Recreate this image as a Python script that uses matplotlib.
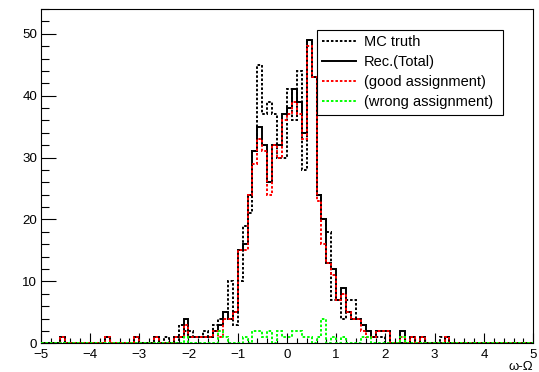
import numpy as np
import matplotlib
matplotlib.use("Agg")
import matplotlib.pyplot as plt
from matplotlib.ticker import MultipleLocator
from matplotlib.lines import Line2D

plt.rcParams['font.family'] = ['Liberation Sans', 'DejaVu Sans']

# 100 bins of width 0.1 from -5 to 5 ; values given as {bin index: count}
bin_edges = np.linspace(-5, 5, 101)

rec_total_nonzero = {4: 1, 13: 1, 19: 1, 23: 1, 27: 1, 28: 1, 29: 4, 30: 1, 31: 1, 32: 1,
                     33: 1, 34: 1, 35: 2, 36: 3, 37: 5, 38: 4, 39: 5, 40: 15, 41: 16, 42: 24,
                     43: 31, 44: 35, 45: 32, 46: 26, 47: 32, 48: 32, 49: 37, 50: 38, 51: 41,
                     52: 39, 53: 34, 54: 49, 55: 43, 56: 24, 57: 20, 58: 13, 59: 12, 60: 7,
                     61: 9, 62: 5, 63: 4, 64: 4, 65: 3, 66: 2, 67: 1, 68: 2, 69: 2, 70: 2,
                     73: 2, 75: 1, 77: 1, 82: 1}
wrong_nonzero = {29: 1, 36: 2, 37: 1, 41: 1, 43: 2, 44: 2, 45: 1, 46: 2, 48: 2, 49: 1,
                 50: 1, 51: 2, 52: 2, 53: 1, 54: 1, 56: 1, 57: 4, 59: 1, 61: 1, 65: 1,
                 66: 1, 73: 1}
good_nonzero = {4: 1, 13: 1, 19: 1, 23: 1, 27: 1, 28: 1, 29: 3, 30: 1, 31: 1, 32: 1,
                33: 1, 34: 1, 35: 2, 36: 1, 37: 4, 38: 4, 39: 5, 40: 15, 41: 15, 42: 24,
                43: 29, 44: 33, 45: 31, 46: 24, 47: 32, 48: 30, 49: 36, 50: 37, 51: 39,
                52: 37, 53: 33, 54: 48, 55: 43, 56: 23, 57: 16, 58: 13, 59: 11, 60: 7,
                61: 8, 62: 5, 63: 4, 64: 4, 65: 2, 66: 1, 67: 1, 68: 2, 69: 2, 70: 2,
                73: 1, 75: 1, 77: 1, 82: 1}
mc_truth_nonzero = {25: 1, 28: 3, 29: 2, 30: 2, 31: 1, 32: 1, 33: 2, 34: 1, 35: 3, 36: 4,
                    37: 5, 38: 10, 39: 3, 40: 10, 41: 19, 42: 21, 43: 31, 44: 45, 45: 37,
                    46: 39, 47: 37, 48: 30, 49: 30, 50: 41, 51: 36, 52: 44, 53: 28, 54: 49,
                    55: 43, 56: 24, 57: 20, 58: 18, 59: 7, 60: 7, 61: 4, 62: 7, 63: 7,
                    64: 4, 65: 3, 66: 2, 67: 1, 68: 1, 69: 1, 81: 1}


def to_array(d):
    a = np.zeros(100)
    for k, v in d.items():
        a[k] = v
    return a


rec_total = to_array(rec_total_nonzero)
good = to_array(good_nonzero)
wrong = to_array(wrong_nonzero)
mc_truth = to_array(mc_truth_nonzero)

W, H = 539, 372
fig = plt.figure(figsize=(W / 100, H / 100), dpi=100)
ax = fig.add_axes([40.7 / W, (H - 343.3) / H, 492.5 / W, 334.3 / H])

lw = 1.4
dots = (0, (1.3, 1.0))
ax.stairs(rec_total, bin_edges, color='black', lw=lw, baseline=0, zorder=3)
ax.stairs(mc_truth, bin_edges, color='black', lw=lw, linestyle=dots, baseline=0, zorder=4)
ax.stairs(good, bin_edges, color='#ff0000', lw=lw, linestyle=dots, baseline=0, zorder=5)
ax.stairs(wrong, bin_edges, color='#00ff00', lw=lw, linestyle=dots, baseline=0, zorder=6)

ax.set_xlim(-5, 5)
ax.set_ylim(0, 54)
ax.xaxis.set_major_locator(MultipleLocator(1))
ax.xaxis.set_minor_locator(MultipleLocator(0.2))
ax.yaxis.set_major_locator(MultipleLocator(10))
ax.yaxis.set_minor_locator(MultipleLocator(2))
ax.tick_params(axis='x', which='major', direction='in', length=7.2, width=0.8, pad=4.2, labelsize=9.6)
ax.tick_params(axis='x', which='minor', direction='in', length=3.6, width=0.8)
ax.tick_params(axis='y', which='major', direction='in', length=10.8, width=0.8, pad=2.5, labelsize=9.6)
ax.tick_params(axis='y', which='minor', direction='in', length=5.5, width=0.8)
ax.tick_params(top=False, right=False, which='both')
for s in ax.spines.values():
    s.set_linewidth(0.8)

fig.text(533 / W, (H - 367) / H, 'ω-Ω', ha='right', va='center', fontsize=9.5)

handles = [Line2D([], [], color='black', lw=lw, linestyle=dots),
           Line2D([], [], color='black', lw=lw),
           Line2D([], [], color='#ff0000', lw=lw, linestyle=dots),
           Line2D([], [], color='#00ff00', lw=lw, linestyle=dots)]
labels = ['MC truth', 'Rec.(Total)', '(good assignment)', '(wrong assignment)']
x0 = (317.3 - 40.7) / 492.5
x1 = (503.3 - 40.7) / 492.5
y1 = (343.3 - 30) / 334.3
leg = ax.legend(handles, labels, loc='upper left', bbox_to_anchor=(x0, y1, x1 - x0, 0.0),
                mode='expand', fontsize=10.5, frameon=True, fancybox=False, framealpha=1,
                edgecolor='black', borderpad=0.35, labelspacing=0.42, handlelength=2.3,
                handletextpad=0.55, borderaxespad=0.0)
leg.get_frame().set_linewidth(0.8)
leg.set_zorder(10)

fig.savefig('out.png', dpi=100)
